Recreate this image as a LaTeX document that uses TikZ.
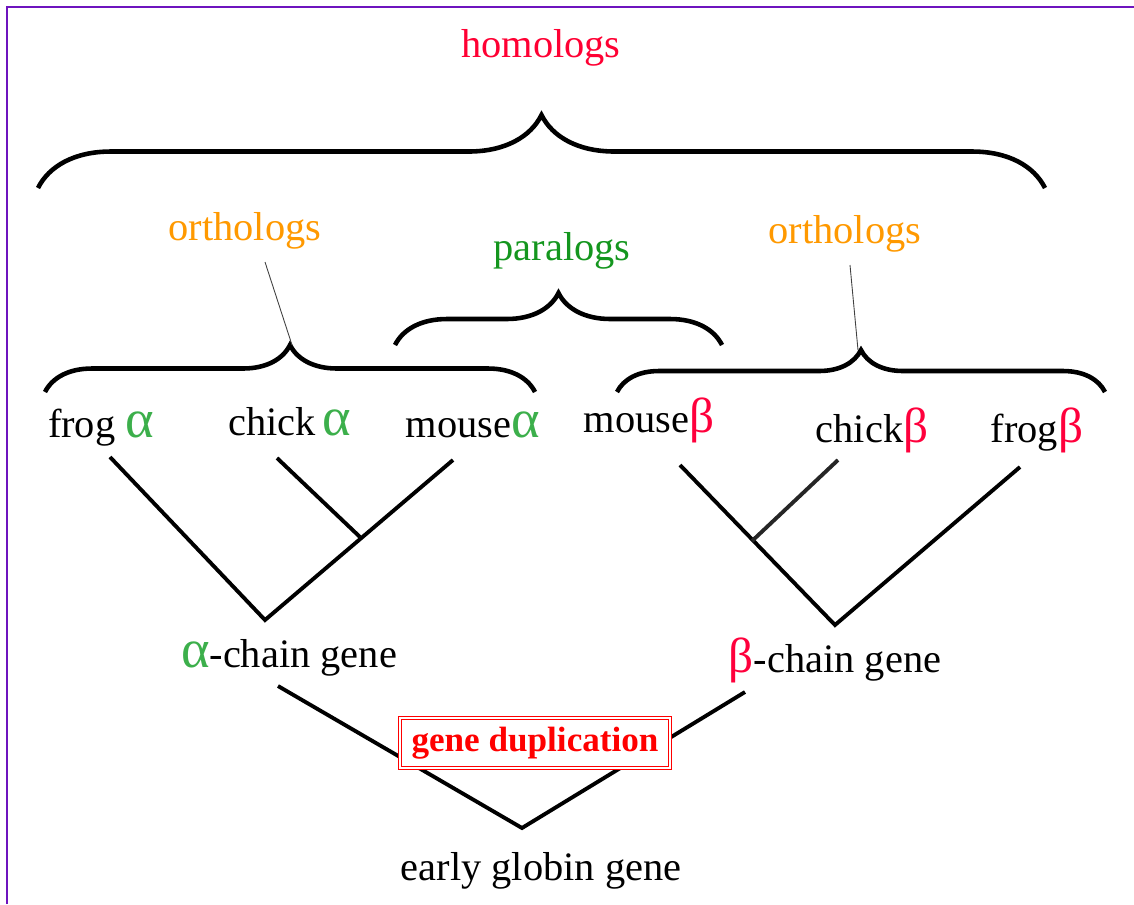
\documentclass[tikz,border=0pt]{standalone}
\usepackage{fontspec}
\setmainfont{Liberation Serif}
\usetikzlibrary{decorations.pathreplacing}
\definecolor{FramePurple}{RGB}{110,20,190}
\definecolor{HomologRed}{RGB}{255,0,51}
\definecolor{OrthoOrange}{RGB}{255,153,0}
\definecolor{ParaGreen}{RGB}{20,150,30}
\definecolor{AlphaGreen}{RGB}{60,175,75}
\definecolor{BetaRed}{RGB}{255,0,60}
\newcommand{\galpha}{\textcolor{AlphaGreen}{\fontsize{31}{31}\selectfont α}}
\newcommand{\rbeta}{\textcolor{BetaRed}{\fontsize{28}{28}\selectfont β}}
\tikzset{
  frame/.style={draw=FramePurple,line width=1.2pt},
  branch/.style={line width=2.2pt},
  bracket/.style={line width=2.6pt,decorate,decoration={brace,amplitude=#1}},
  pointer/.style={line width=0.5pt,draw=black!75},
  word/.style={font=\fontsize{23}{26}\selectfont,inner sep=0pt,anchor=base},
  dupbox/.style={draw=red,double=white,double distance=1.6pt,line width=0.6pt,
    fill=white,inner sep=0pt,minimum width=5.4cm,minimum height=1.0cm,
    text=red,font=\fontsize{20}{24}\selectfont\bfseries}
}

\begin{document}
\begin{tikzpicture}[x=0.02cm,y=-0.02cm]
  \useasboundingbox (0,0) rectangle (1134,904);
  \draw[frame] (7,904) -- (7,7) -- (1134,7);

  % group labels
  \node[word,text=HomologRed] (homologs) at (541,57) {homologs};
  \node[word,text=OrthoOrange] (orthoL) at (245,240) {orthologs};
  \node[word,text=ParaGreen] (paralogs) at (562,260) {paralogs};
  \node[word,text=OrthoOrange] (orthoR) at (845,243) {orthologs};

  % braces
  \coordinate (homL) at (38,188);
  \coordinate (homR) at (1045,188);
  \coordinate (orLl) at (45,392);
  \coordinate (orLr) at (535,392);
  \coordinate (parL) at (395,345);
  \coordinate (parR) at (722,345);
  \coordinate (orRl) at (617,392);
  \coordinate (orRr) at (1105,392);
  \draw[bracket=1.46cm] (homL) -- (homR);
  \draw[bracket=0.94cm] (orLl) -- (orLr);
  \draw[bracket=1.04cm] (parL) -- (parR);
  \draw[bracket=0.84cm] (orRl) -- (orRr);

  \coordinate (ptrL) at (265,262);
  \coordinate (tipL) at (292,345);
  \coordinate (ptrR) at (850,265);
  \coordinate (tipR) at (858,350);
  \draw[pointer] (ptrL) -- (tipL);
  \draw[pointer] (ptrR) -- (tipR);

  % species
  \node[word] (frogA) at (101,437) {frog \galpha};
  \node[word] (chickA) at (290,435) {chick\,\galpha};
  \node[word] (mouseA) at (473,437) {mouse\galpha};
  \node[word] (mouseB) at (649,432) {mouse\rbeta};
  \node[word] (chickB) at (872,442) {chick\rbeta};
  \node[word] (frogB) at (1037,442) {frog\rbeta};

  % alpha tree
  \coordinate (fA) at (110,457);
  \coordinate (cA) at (277,458);
  \coordinate (mA) at (453,460);
  \coordinate (joinA) at (360,537);
  \coordinate (rootA) at (265,620);
  \draw[branch] (fA) -- (rootA) -- (mA);
  \draw[branch] (cA) -- (joinA);

  % beta tree
  \coordinate (mB) at (680,465);
  \coordinate (cB) at (838,460);
  \coordinate (fB) at (1020,467);
  \coordinate (joinB) at (752,541);
  \coordinate (rootB) at (835,625);
  \draw[branch] (mB) -- (rootB) -- (fB);
  \draw[branch,draw=black!85] (cB) -- (joinB);

  \node[word] (chainA) at (289,667) {\galpha-chain gene};
  \node[word] (chainB) at (835,672) {\rbeta-chain gene};

  % duplication
  \coordinate (aBot) at (278,686);
  \coordinate (bBot) at (745,692);
  \coordinate (root) at (522,828);
  \draw[branch] (aBot) -- (root) -- (bBot);
  \node[dupbox] (dup) at (535,743) {gene duplication};

  \node[word] (early) at (541,880) {early globin gene};
\end{tikzpicture}
\end{document}
